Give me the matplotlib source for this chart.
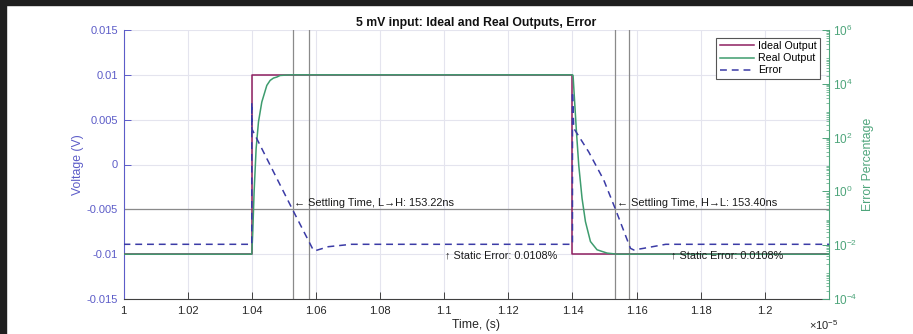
import numpy as np
import matplotlib
matplotlib.use('Agg')
import matplotlib.pyplot as plt
from matplotlib.patches import Rectangle
from matplotlib.ticker import FixedLocator, LogLocator, FuncFormatter, NullFormatter

plt.rcParams['font.family'] = ['Liberation Sans', 'DejaVu Sans']
plt.rcParams['mathtext.fontset'] = 'custom'
plt.rcParams['mathtext.rm'] = 'Liberation Sans'
plt.rcParams['mathtext.it'] = 'Liberation Sans'

# ---- data (time in units of 1e-5 s) ----
t_ideal = [1.00, 1.04, 1.04, 1.14, 1.14, 1.22]
v_ideal = [-0.01, -0.01, 0.01, 0.01, -0.01, -0.01]

t_real = [1.00, 1.04, 1.04031, 1.04073, 1.04136, 1.04209, 1.04313, 1.04469, 1.04573,
          1.04677, 1.04779, 1.04885, 1.05196, 1.14, 1.14019, 1.14062, 1.14125,
          1.14196, 1.14299, 1.14405, 1.14561, 1.14767, 1.15079, 1.15391, 1.22]
v_real = [-0.01, -0.01, -0.0075, -0.00303, 0.00179, 0.00475, 0.00697, 0.00882, 0.00938,
          0.00964, 0.00975, 0.00993, 0.01, 0.01, 0.00993, 0.00734, 0.00363,
          -0.00007, -0.00377, -0.00637, -0.00859, -0.00951, -0.00988, -0.01, -0.01]

t_err = [1.00, 1.04, 1.04, 1.04003, 1.05278, 1.05918, 1.05971, 1.06387, 1.07104,
         1.14, 1.14, 1.14041, 1.14508, 1.14976, 1.15350, 1.15808, 1.15911, 1.16223,
         1.16909, 1.22]
e_err = [0.0108, 0.0108, 2000, 210, 0.204, 0.0066, 0.0062, 0.0088, 0.0108,
         0.0108, 5000, 222, 29.2, 2.65, 0.204, 0.00767, 0.00664, 0.00767,
         0.0108, 0.0108]

settle_lines = [1.05278, 1.05784, 1.15341, 1.15778]
threshold_v = -0.005
settle_text_x = [1.05278, 1.15341]
settle_text_y = -0.0043
settle_labels = ['\u2190 Settling Time, L\u2192H: 153.22ns',
                 '\u2190 Settling Time, H\u2192L: 153.40ns']
static_text_x = [1.1002, 1.1707]
static_text_y = -0.0101
static_labels = ['\u2191 Static Error: 0.0108%', '\u2191 Static Error: 0.0108%']

x_ticks = [1.00, 1.02, 1.04, 1.06, 1.08, 1.10, 1.12, 1.14, 1.16, 1.18, 1.20]
x_ticklabels = ['1', '1.02', '1.04', '1.06', '1.08', '1.1', '1.12', '1.14', '1.16', '1.18', '1.2']
y_ticks = [-0.015, -0.01, -0.005, 0, 0.005, 0.01, 0.015]
y_ticklabels = ['-0.015', '-0.01', '-0.005', '0', '0.005', '0.01', '0.015']
y2_ticks = [1e-4, 1e-2, 1e0, 1e2, 1e4, 1e6]

# ---- styles ----
C_IDEAL = '#8e1f60'
C_REAL = '#3e9c6e'
C_ERR = '#3b3ba6'
C_LEFT = '#5c5cc8'
C_RIGHT = '#4ea57b'
C_GRID = '#e4e4ee'
C_AX = '#404040'

fig = plt.figure(figsize=(9.13, 3.34), dpi=100)
fig.patch.set_facecolor('white')
W, H = 913, 334
ax = fig.add_axes([123.5 / W, 1 - 299 / H, (829 - 123.5) / W, 269 / H])
ax2 = ax.twinx()

ax.set_xlim(1.0, 1.22)
ax.set_ylim(-0.015, 0.015)
ax2.set_yscale('log')
ax2.set_ylim(1e-4, 1e6)

ax.grid(True, color=C_GRID, lw=0.8)
ax.set_axisbelow(True)

# settling lines
for xv in settle_lines:
    ax.axvline(xv, color='#8a8a8a', lw=0.9, zorder=1.5)
ax.axhline(threshold_v, color='#8a8a8a', lw=0.9, zorder=1.5)

l1, = ax.plot(t_ideal, v_ideal, color=C_IDEAL, lw=1.1, label='Ideal Output', zorder=3)
l2, = ax.plot(t_real, v_real, color=C_REAL, lw=1.1, label='Real Output', zorder=3)
l3, = ax2.plot(t_err, e_err, color=C_ERR, lw=1.1, ls=(0, (4.5, 3.2)), label='Error', zorder=3)

for xv, s in zip(settle_text_x, settle_labels):
    ax.text(xv + 0.0004, settle_text_y, s, fontsize=7.9, color='#1a1a1a',
            ha='left', va='center', zorder=4)
for xv, s in zip(static_text_x, static_labels):
    ax.text(xv, static_text_y, s, fontsize=7.8, color='#1a1a1a',
            ha='left', va='center', zorder=4)

# axes styling
ax.set_xticks(x_ticks)
ax.set_xticklabels(x_ticklabels)
ax.set_yticks(y_ticks)
ax.set_yticklabels(y_ticklabels)
ax.tick_params(axis='x', direction='in', length=5, width=0.7, colors=C_AX, labelsize=8,
               labelcolor='#262626', pad=5)
ax.tick_params(axis='y', direction='in', length=5, width=0.7, colors=C_LEFT, labelsize=8,
               labelcolor=C_LEFT, pad=4)

ax2.yaxis.set_major_locator(FixedLocator(y2_ticks))
ax2.yaxis.set_minor_locator(LogLocator(base=10, subs=np.arange(2, 10), numticks=100))
ax2.yaxis.set_minor_formatter(NullFormatter())
ax2.yaxis.set_major_formatter(FuncFormatter(
    lambda v, p: r'$\mathregular{10^{%d}}$' % int(round(np.log10(v)))))
ax2.tick_params(axis='y', which='major', direction='in', length=5, width=0.7,
                colors=C_RIGHT, labelsize=8.5, labelcolor=C_RIGHT, pad=3)
ax2.tick_params(axis='y', which='minor', direction='in', length=2.5, width=0.5,
                colors=C_RIGHT)

for a in (ax, ax2):
    a.spines['top'].set_visible(False)
ax.spines['left'].set_color(C_LEFT)
ax.spines['bottom'].set_color(C_AX)
ax2.spines['right'].set_color(C_RIGHT)
ax2.spines['left'].set_visible(False)
ax2.spines['bottom'].set_visible(False)
ax.spines['right'].set_visible(False)
for s in ('left', 'bottom'):
    ax.spines[s].set_linewidth(0.8)
ax2.spines['right'].set_linewidth(0.8)

ax.set_ylabel('Voltage (V)', color=C_LEFT, fontsize=8.8)
ax.yaxis.set_label_coords((84 - 123.5) / 705.5, 0.5)
ax2.set_ylabel('Error Percentage', color=C_RIGHT, fontsize=8.8)
ax2.yaxis.set_label_coords((862 - 123.5) / 705.5, 0.5)
ax.set_xlabel('Time, (s)', color='#262626', fontsize=8.8)
ax.xaxis.set_label_coords(0.5, (299 - 319) / 269)
ax.set_title('5 mV input: Ideal and Real Outputs, Error', fontsize=8.8,
             fontweight='bold', color='#111111', pad=3)

fig.text(824 / W, 1 - 325 / H, r'$\mathregular{\times10^{-5}}$', fontsize=8,
         color='#262626', ha='center', va='center')

leg = ax2.legend(handles=[l1, l2, l3], loc='upper right',
                 bbox_to_anchor=((820 - 123.5) / 705.5, (299 - 38) / 269),
                 fontsize=7.7, frameon=True, fancybox=False, framealpha=1,
                 edgecolor='#555555', handlelength=3.2, borderpad=0.3,
                 labelspacing=0.2, handletextpad=0.4, borderaxespad=0)
leg.get_frame().set_linewidth(0.8)

# dark borders of the screenshot
fig.add_artist(Rectangle((0, 1 - 5 / H), 1, 5 / H, transform=fig.transFigure,
                         color='#1f1f1f', zorder=10))
fig.add_artist(Rectangle((0, 0), 6 / W, 1, transform=fig.transFigure,
                         color='#1f1f1f', zorder=10))

fig.savefig('out.png', dpi=100)
